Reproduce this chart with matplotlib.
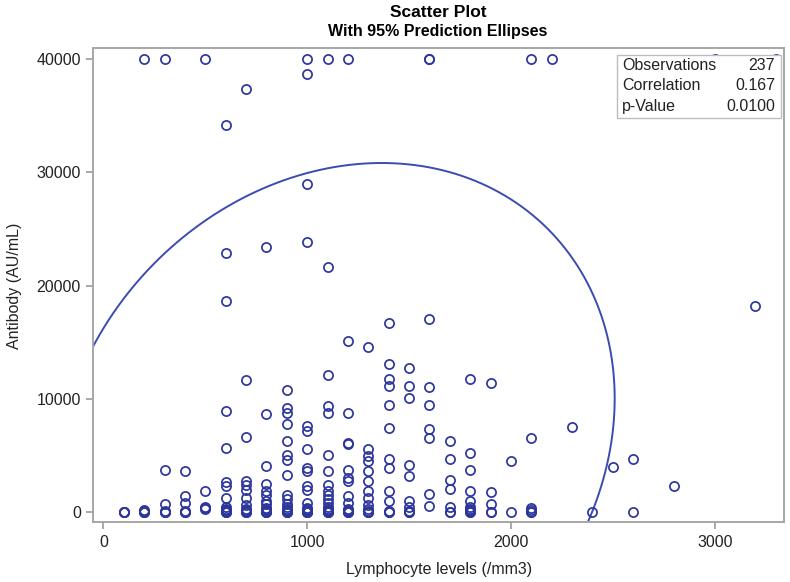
import matplotlib
matplotlib.use("Agg")
import matplotlib.pyplot as plt
import numpy as np

plt.rcParams['font.family'] = ['Liberation Sans', 'DejaVu Sans']

# lymphocyte level (x) and the antibody values read at that level (y)
lymph_levels = [100, 200, 300, 400, 500, 600, 700, 800, 900, 1000,
                1100, 1200, 1300, 1400, 1500, 1600, 1700, 1800, 1900, 2000,
                2100, 2200, 2300, 2400, 2500, 2600, 2800, 3000, 3200, 3300]
antibody_by_level = [
    [0, 0, 50, 0],
    [40000, 200, 0, 0, 100, 0],
    [40000, 3720, 770, 0, 0, 100, 0],
    [3630, 1480, 820, 0, 0, 100, 0],
    [40000, 1920, 470, 380, 400, 300],
    [34160, 22860, 18670, 8940, 5640, 2680, 2300, 1270, 470, 100, 0,
     0, 200, 300, 0],
    [37400, 11650, 6640, 2740, 2450, 2000, 1270, 680, 200, 0,
     0, 100, 300, 0],
    [23390, 8700, 4070, 2500, 1860, 1500, 1000, 700, 300, 0,
     0, 100, 200, 400, 0],
    [10770, 9230, 8790, 7810, 6340, 5100, 4660, 3270, 1560, 1150, 700, 300, 0,
     0, 100, 200, 500, 0],
    [40000, 38650, 28940, 23830, 7610, 7170, 5550, 3920, 3630, 2300, 2000,
     820, 300, 100, 0, 0, 200, 0, 100, 400, 0],
    [40000, 21680, 12100, 9380, 8790, 5100, 3630, 2450, 1860, 1500, 1200,
     800, 500, 200, 0, 0, 100, 300, 0, 100, 0],
    [40000, 15130, 8790, 6130, 5990, 3780, 3040, 2740, 1420, 820, 200, 0,
     0, 100, 0, 300],
    [14600, 5550, 5000, 4510, 3690, 2800, 1920, 1270, 680, 300, 0,
     0, 100, 0],
    [16700, 13070, 11740, 11150, 9470, 7460, 4750, 3920, 1860, 1040, 0,
     0, 100],
    [12720, 11150, 10060, 4160, 3190, 970, 500, 0, 0, 100],
    [40000, 40000, 17080, 11060, 9470, 7320, 6580, 1650, 590],
    [6340, 4720, 2830, 2060, 470, 0, 0],
    [11740, 5250, 3720, 1860, 970, 500, 200, 0, 0, 100, 300],
    [11390, 1800, 730, 0, 0],
    [4510, 0],
    [40000, 6520, 380, 0, 0, 200],
    [40000],
    [7550],
    [0],
    [4010],
    [4720, 0],
    [2360],
    [40000],
    [18230],
    [40000],
]

# summary statistics shown in the inset and used for the prediction ellipse
n_obs = 237
corr = 0.167
p_value = 0.0100
mean_x, mean_y = 1136, 5885
sd_x, sd_y = 555, 10083

x = np.concatenate([[lv] * len(v) for lv, v in zip(lymph_levels, antibody_by_level)])
y = np.concatenate([np.array(v, dtype=float) for v in antibody_by_level])

blue = '#2c369c'
line_blue = '#3b4cb0'

fig = plt.figure(figsize=(7.9, 5.82), dpi=100)
ax = fig.add_axes([0.1181, 0.1025, 0.8743, 0.8145])

ax.plot(x, y, 'o', mfc='none', mec=blue, ms=6.6, mew=1.25, zorder=3)

# 95% prediction ellipse (F quantile with 2 numerator df has a closed form)
df2 = n_obs - 2
f95 = (df2 / 2.0) * (0.05 ** (-2.0 / df2) - 1.0)
c = np.sqrt(2.0 * (n_obs + 1) * (n_obs - 1) / (n_obs * (n_obs - 2)) * f95)
t = np.linspace(np.pi, 3 * np.pi, 721)  # start off-screen on the left
u, v = np.cos(t), np.sin(t)
ex = mean_x + c * sd_x * u
ey = mean_y + c * sd_y * (corr * u + np.sqrt(1 - corr ** 2) * v)
ax.plot(ex, ey, color=line_blue, lw=1.4, zorder=2)

ax.set_xlim(-50, 3340)
ax.set_ylim(-880, 40950)
ax.set_xticks([0, 1000, 2000, 3000])
ax.set_yticks([0, 10000, 20000, 30000, 40000])
ax.tick_params(direction='out', length=5, width=1.2, color='#9a9a9a',
               labelsize=11.5, labelcolor='#222222', pad=4)
for s in ax.spines.values():
    s.set_color('#a6a6a6')
    s.set_linewidth(1.4)

ax.set_xlabel('Lymphocyte levels (/mm3)', fontsize=11.5, color='#222222', labelpad=9)
ax.set_ylabel('Antibody (AU/mL)', fontsize=11.5, color='#222222', labelpad=10)

fig.text(0.5545, 0.979, 'Scatter Plot', ha='center', va='center',
         fontsize=12.5, fontweight='bold')
fig.text(0.5545, 0.946, 'With 95% Prediction Ellipses', ha='center', va='center',
         fontsize=11.5, fontweight='bold')

# inset statistics table
labels = ['Observations', 'Correlation', 'p-Value']
values = [f'{n_obs}', f'{corr:.3f}', f'{p_value:.4f}']
box = plt.Rectangle((0.758, 0.853), 0.2375, 0.133, transform=ax.transAxes,
                    fill=True, fc='white', ec='#bdbdbd', lw=1.0, zorder=4)
ax.add_patch(box)
for i, (lab, val) in enumerate(zip(labels, values)):
    yy = 0.964 - i * 0.0435
    ax.text(0.7656, yy, lab, transform=ax.transAxes, ha='left', va='center',
            fontsize=11.5, color='#222222', zorder=5)
    ax.text(0.987, yy, val, transform=ax.transAxes, ha='right', va='center',
            fontsize=11.5, color='#222222', zorder=5)

fig.savefig('out.png', dpi=100)
